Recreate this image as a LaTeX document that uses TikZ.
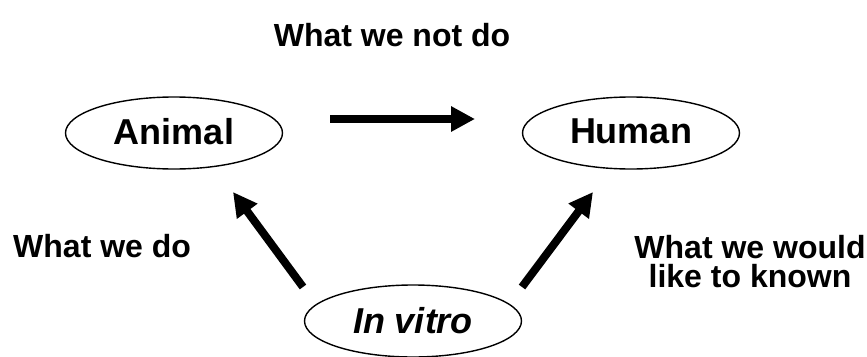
\documentclass[tikz,border=0pt]{standalone}
\usepackage{fontspec}
\setmainfont{Liberation Sans}
\usetikzlibrary{shapes.geometric,arrows.meta}
\begin{document}
\begin{tikzpicture}[x=1pt,y=-1pt,
  oval/.style={ellipse,draw,line width=1.4pt,minimum width=217pt,minimum height=72pt,inner sep=0pt,font=\fontsize{36}{40}\selectfont\bfseries},
  lbl/.style={font=\fontsize{32}{29}\selectfont\bfseries,inner sep=0pt},
  bigarrow/.style={line width=8pt,-{Triangle[length=24pt,width=24pt]}}]
\useasboundingbox (0,0) rectangle (867,356);
\node[oval] (an) at (174,133) {\raisebox{4pt}{Animal}};
\node[oval] (hu) at (631,133) {\raisebox{4pt}{Human}};
\node[oval] (iv) at (413,321) {\raisebox{2pt}{\itshape In vitro}};
\node[lbl,anchor=base] (wnd) at (392,46) {What we not do};
\node[lbl,anchor=base west] (wd) at (13,257) {What we do};
\node[lbl,align=center,anchor=north] (ww) at (750,235) {What we would\\like to known};
\coordinate (h1) at (330,119);
\coordinate (h2) at (475,119);
\coordinate (l1) at (303,287);
\coordinate (l2) at (233,192);
\coordinate (r1) at (522,287);
\coordinate (r2) at (593,192);
\draw[bigarrow] (h1) -- (h2);
\draw[bigarrow] (l1) -- (l2);
\draw[bigarrow] (r1) -- (r2);
\end{tikzpicture}
\end{document}
